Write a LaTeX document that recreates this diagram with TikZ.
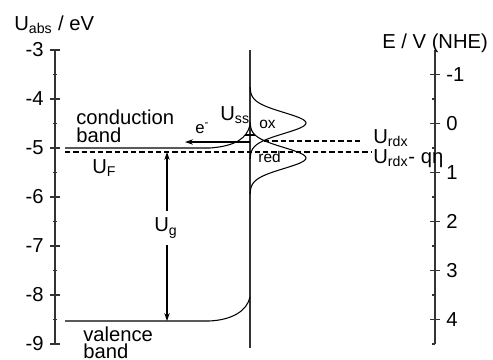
\documentclass[tikz,border=0pt]{standalone}
\usepackage{fontspec}
\setmainfont{Liberation Sans}
\usetikzlibrary{arrows.meta}

\begin{document}
\begin{tikzpicture}[
  x=0.02cm, y=-0.02cm,
  every node/.style={font=\fontsize{11.5}{9.7}\selectfont, inner sep=0pt},
  small/.style={font=\fontsize{8.8}{9}\selectfont},
  num/.style={font=\fontsize{11.5}{12}\selectfont},
  axis/.style={draw=black!80, line width=0.8pt},
  band/.style={draw=black, line width=0.6pt},
  level/.style={draw=black, line width=0.6pt, dash pattern=on 3pt off 1.7pt},
  gauss/.style={draw=black, line width=0.6pt, smooth},
  arrow/.style={-{Stealth[length=4.5pt, width=3pt]}, line width=0.6pt},
]
\useasboundingbox (0,0) rectangle (493,359);

% energy scales
\coordinate (ltop) at (55,50);  \coordinate (lbot) at (55,344);
\coordinate (rtop) at (435,50); \coordinate (rbot) at (435,344);
\draw[axis] (ltop) -- (lbot);
\draw[axis] (rtop) -- (rbot);
\foreach \v [count=\k from 0] in {-3,-4,...,-9} {
  \draw[axis] (50,50+49*\k) -- (60,50+49*\k);
  \node[num, anchor=east] (l\k) at (44,50+49*\k) {\v};
}
\foreach \k in {0,...,5}
  \draw[axis] (53,74.5+49*\k) -- (57,74.5+49*\k);
\foreach \e [count=\k from 0] in {-1,0,...,4} {
  \draw[axis] (430,74.5+49*\k) -- (440,74.5+49*\k);
  \node[num, anchor=west] (r\k) at (446,74.5+49*\k) {\e};
}
\foreach \k in {1,...,6}
  \draw[axis] (432,50+49*\k) -- (435,50+49*\k);
\node[anchor=base west] (uabs) at (14,30) {U\textsubscript{abs} / eV};
\node[anchor=base west] (enhe) at (382,48) {E / V (NHE)};

% interface
\coordinate (itop) at (250,50); \coordinate (ibot) at (250,348);
\draw[draw=black!80, line width=0.7pt] (itop) -- (ibot);
\draw[band] (245,135) -- (255,135);

% bands
\coordinate (cbl) at (65,148);  \coordinate (cbk) at (210,148);  \coordinate (cbs) at (250,125);
\coordinate (vbl) at (65,321);  \coordinate (vbk) at (209,321);  \coordinate (vbs) at (250,297);
\draw[band] (cbl) -- (cbk) .. controls (236,146) and (247,138) .. (cbs);
\draw[band] (vbl) -- (vbk) .. controls (232,320) and (247,311) .. (vbs);
\node[anchor=north west, align=left] (cb) at (76,110) {conduction\\band};
\node[anchor=north west, align=left] (vb) at (83,326) {valence\\band};

% levels
\coordinate (fl) at (65,152);  \coordinate (fr) at (372,152);
\coordinate (rl) at (264,141); \coordinate (rr) at (362,141);
\draw[level] (fl) -- (fr);
\draw[level] (rl) -- (rr);
\node[anchor=base west] (uf) at (92,173) {U\textsubscript{F}};
\node[anchor=base west] (urdx) at (373,143) {U\textsubscript{rdx}};
\node[anchor=base west] (ueta) at (373,163) {U\textsubscript{rdx}- qη};

% redox distributions
\draw[gauss] plot[domain=-36:36, samples=61] ({250+56*exp(-0.5*(\x/10.5)^2)}, {123+\x});
\draw[gauss] plot[domain=-36:36, samples=61] ({250+56*exp(-0.5*(\x/10.5)^2)}, {158+\x});
\node[small, anchor=base west] (ox) at (259,128) {ox};
\node[small, anchor=base west] (red) at (258,162) {red};

% electron transfer
\coordinate (es) at (250,142); \coordinate (ee) at (185,142);
\draw[arrow] (es) -- (ee);
\node[font=\fontsize{9.5}{10}\selectfont, anchor=base west] (el) at (195,133) {e\textsuperscript{-}};
\node[anchor=base west] (uss) at (220,120) {U\textsubscript{ss}};

% band gap
\coordinate (gtop) at (167,152); \coordinate (gbot) at (167,321);
\node[inner ysep=4pt] (ug) at (166,228) {U\textsubscript{g}};
\draw[arrow] (gtop |- ug.north) -- (gtop);
\draw[arrow] (gbot |- ug.south) -- (gbot);
\end{tikzpicture}
\end{document}
